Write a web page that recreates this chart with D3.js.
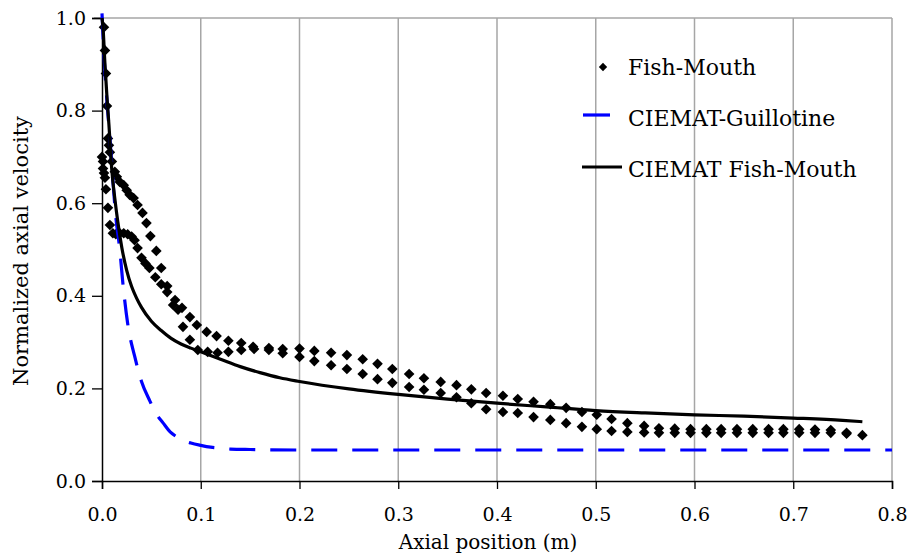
<!DOCTYPE html>
<html>
<head>
<meta charset="utf-8">
<script src="https://cdn.jsdelivr.net/npm/d3@7"></script>
<style>
  body { margin: 0; background: #fff; }
  text { font-family: "DejaVu Serif", "Liberation Serif", serif; fill: #000; }
</style>
</head>
<body>
<div id="viz"></div>
<script>
/*** data ***/
// Fish-Mouth measurements, upper branch
const fmUpperX = [0.002,0.003,0.004,0.005,0.006,0.007,0.008,0.010,0.013,0.015,0.018,0.022,0.025,0.028,0.032,0.036,0.041,0.045,0.049,0.055,0.060,0.066,0.074,0.081,0.089,0.096,0.106,0.116,0.128,0.141,0.153,0.169,0.183,0.200,0.215,0.232,0.248,0.264,0.279,0.294,0.311,0.326,0.343,0.359,0.374,0.389,0.406,0.421,0.437,0.454,0.470,0.486,0.501,0.516,0.532,0.549,0.564,0.580,0.596,0.612,0.627,0.643,0.659,0.675,0.690,0.706,0.722,0.738,0.754,0.770];
const fmUpperY = [0.98,0.93,0.88,0.81,0.74,0.725,0.71,0.69,0.668,0.657,0.646,0.639,0.628,0.618,0.611,0.596,0.579,0.557,0.529,0.497,0.460,0.421,0.391,0.374,0.354,0.337,0.322,0.313,0.303,0.298,0.290,0.287,0.285,0.286,0.281,0.277,0.272,0.263,0.253,0.242,0.231,0.222,0.214,0.207,0.198,0.190,0.184,0.177,0.171,0.166,0.158,0.149,0.143,0.134,0.125,0.119,0.114,0.113,0.112,0.112,0.112,0.112,0.112,0.112,0.112,0.112,0.111,0.110,0.104,0.099];
// Fish-Mouth measurements, lower branch
const fmLowerX = [0.000,0.001,0.001,0.002,0.003,0.004,0.006,0.008,0.011,0.014,0.018,0.022,0.026,0.030,0.033,0.036,0.040,0.044,0.048,0.054,0.060,0.066,0.072,0.077,0.082,0.089,0.097,0.107,0.117,0.128,0.141,0.154,0.169,0.183,0.200,0.215,0.232,0.248,0.264,0.279,0.294,0.311,0.326,0.343,0.359,0.374,0.389,0.406,0.421,0.437,0.454,0.470,0.486,0.501,0.516,0.532,0.549,0.564,0.580,0.596,0.612,0.627,0.643,0.659,0.675,0.690,0.706,0.722,0.738,0.754];
const fmLowerY = [0.700,0.690,0.675,0.665,0.655,0.630,0.590,0.553,0.535,0.533,0.535,0.535,0.533,0.528,0.520,0.503,0.482,0.470,0.460,0.440,0.425,0.408,0.380,0.370,0.333,0.305,0.283,0.279,0.277,0.279,0.283,0.285,0.283,0.276,0.268,0.259,0.250,0.242,0.231,0.220,0.212,0.203,0.197,0.190,0.181,0.168,0.155,0.149,0.147,0.138,0.132,0.125,0.117,0.112,0.108,0.106,0.105,0.104,0.104,0.104,0.104,0.104,0.104,0.104,0.104,0.104,0.104,0.104,0.104,0.102];
// CIEMAT-Guillotine model
const guilX = [0.000,0.002,0.005,0.008,0.011,0.014,0.018,0.021,0.026,0.033,0.040,0.048,0.055,0.062,0.069,0.076,0.083,0.090,0.100,0.110,0.120,0.130,0.150,0.200,0.300,0.400,0.500,0.600,0.700,0.800];
const guilY = [1.010,0.920,0.820,0.740,0.650,0.570,0.500,0.430,0.340,0.270,0.215,0.175,0.145,0.125,0.106,0.095,0.087,0.082,0.077,0.073,0.071,0.069,0.068,0.067,0.067,0.067,0.067,0.067,0.067,0.067];
// CIEMAT Fish-Mouth model
const ciemX = [0.000,0.001,0.003,0.005,0.007,0.010,0.013,0.016,0.020,0.025,0.030,0.035,0.040,0.050,0.060,0.070,0.080,0.090,0.100,0.120,0.140,0.160,0.180,0.200,0.250,0.300,0.350,0.400,0.450,0.500,0.550,0.600,0.650,0.700,0.750,0.770];
const ciemY = [1.000,0.980,0.900,0.830,0.770,0.670,0.610,0.560,0.505,0.455,0.420,0.395,0.375,0.345,0.325,0.308,0.296,0.287,0.279,0.263,0.247,0.234,0.223,0.215,0.199,0.187,0.177,0.168,0.160,0.152,0.147,0.143,0.140,0.136,0.131,0.128];

const xTicks = [0, 0.1, 0.2, 0.3, 0.4, 0.5, 0.6, 0.7, 0.8];
const yTicks = [0, 0.2, 0.4, 0.6, 0.8, 1.0];
const seriesNames = ["Fish-Mouth", "CIEMAT-Guillotine", "CIEMAT Fish-Mouth"];

/*** sizes ***/
const width = 912, height = 555;
const margin = {top: 18, right: 20, bottom: 74, left: 102};
const font = '"DejaVu Serif", "Liberation Serif", serif';

const x = d3.scaleLinear().domain([0, 0.8]).range([margin.left, width - margin.right]);
const y = d3.scaleLinear().domain([0, 1]).range([height - margin.bottom, margin.top]);

const svg = d3.select("#viz").append("svg")
  .attr("width", width)
  .attr("height", height);

// vertical gridlines
svg.append("g")
  .selectAll("line")
  .data(xTicks.slice(1))
  .join("line")
  .attr("x1", d => x(d)).attr("x2", d => x(d))
  .attr("y1", y(0)).attr("y2", y(1))
  .attr("stroke", "#a6a6a6")
  .attr("stroke-width", 1.5);

// top border
svg.append("line")
  .attr("x1", x(0) - 8).attr("x2", x(0.8))
  .attr("y1", y(1)).attr("y2", y(1))
  .attr("stroke", "#a6a6a6")
  .attr("stroke-width", 1.5);

// axes
const xAxis = svg.append("g")
  .attr("transform", `translate(0,${y(0)})`)
  .call(d3.axisBottom(x).tickValues(xTicks).tickFormat(d3.format(".1f")).tickSize(8).tickPadding(19));
const yAxis = svg.append("g")
  .attr("transform", `translate(${x(0)},0)`)
  .call(d3.axisLeft(y).tickValues(yTicks).tickFormat(d3.format(".1f")).tickSize(10).tickPadding(6));

[xAxis, yAxis].forEach(g => {
  g.attr("font-family", font);
  g.select(".domain").attr("stroke", "#000").attr("stroke-width", 1.5);
  g.selectAll(".tick line").attr("stroke", "#000").attr("stroke-width", 1.3);
  g.selectAll(".tick text")
    .style("font-size", "19px")
    .attr("fill", "#000");
});

// axis titles
svg.append("text")
  .attr("x", 488).attr("y", 549)
  .attr("text-anchor", "middle")
  .style("font-size", "20px")
  .text("Axial position (m)");

svg.append("text")
  .attr("transform", `translate(28,251) rotate(-90)`)
  .attr("text-anchor", "middle")
  .style("font-size", "21px")
  .text("Normalized axial velocity");

// markers
const diamond = d3.symbol().type(d3.symbolDiamond2).size(72);
const fmPoints = fmUpperX.map((v, i) => [v, fmUpperY[i]])
  .concat(fmLowerX.map((v, i) => [v, fmLowerY[i]]));

svg.append("g")
  .selectAll("path")
  .data(fmPoints)
  .join("path")
  .attr("d", diamond)
  .attr("transform", d => `translate(${x(d[0])},${y(d[1])})`)
  .attr("fill", "#000");

const line = d3.line().x(d => x(d[0])).y(d => y(d[1])).curve(d3.curveMonotoneX);

svg.append("path")
  .attr("d", line(guilX.map((v, i) => [v, guilY[i]])))
  .attr("fill", "none")
  .attr("stroke", "#0000ff")
  .attr("stroke-width", 3.2)
  .attr("stroke-dasharray", "26,15");

svg.append("path")
  .attr("d", line(ciemX.map((v, i) => [v, ciemY[i]])))
  .attr("fill", "none")
  .attr("stroke", "#000")
  .attr("stroke-width", 3.2);

// legend
const legend = svg.append("g");
legend.append("path")
  .attr("d", d3.symbol().type(d3.symbolDiamond2).size(44))
  .attr("transform", "translate(603,67)")
  .attr("fill", "#000");
legend.append("line")
  .attr("x1", 583).attr("x2", 610).attr("y1", 115).attr("y2", 115)
  .attr("stroke", "#0000ff").attr("stroke-width", 3.2);
legend.append("line")
  .attr("x1", 582).attr("x2", 622).attr("y1", 167).attr("y2", 167)
  .attr("stroke", "#000").attr("stroke-width", 3.2);
legend.selectAll("text")
  .data(seriesNames)
  .join("text")
  .attr("x", 628)
  .attr("y", (d, i) => 75 + i * 51)
  .style("font-size", "22px")
  .text(d => d);
</script>
</body>
</html>
